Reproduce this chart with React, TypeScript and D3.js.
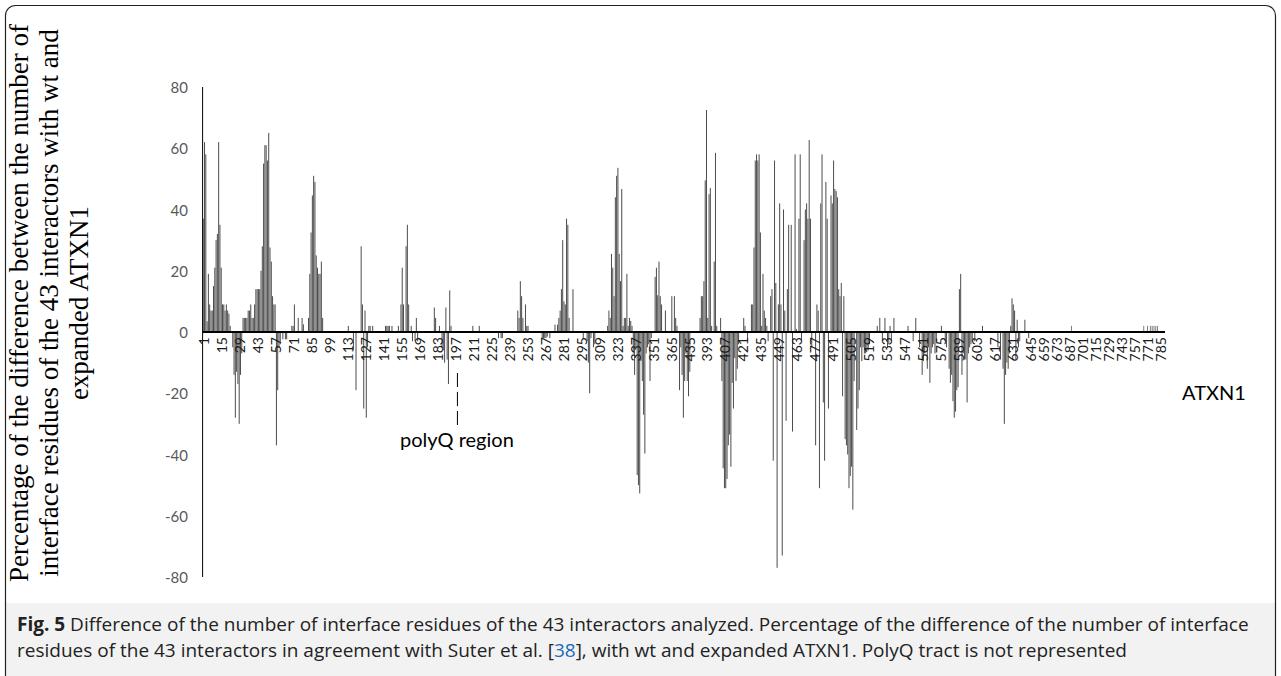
import * as d3 from "d3";

// residue positions along ATXN1 (polyQ tract removed) and the % difference read at each
const residues = [
  1, 2, 3, 4, 5, 6, 7, 8, 9, 10, 11, 12, 13, 14, 15, 16, 17, 18, 19, 20, 21, 22,
  24, 25, 26, 27, 28, 29, 30, 31, 32, 33, 34, 35, 36, 37, 38, 39, 40, 41, 42, 43, 44, 45, 46, 47, 48,
  49, 50, 51, 52, 53, 54, 55, 56, 57, 58, 59, 60, 61, 63, 65, 66, 70, 71, 72, 75, 78, 79,
  83, 84, 85, 86, 87, 88, 89, 90, 91, 92, 93, 94,
  114, 118, 120, 124, 125, 126, 127, 128, 129, 130, 131, 133, 143, 144, 145, 146, 148,
  153, 155, 156, 157, 159, 160, 161, 163, 164, 166, 167, 168,
  181, 182, 185, 187, 188, 189, 190, 191, 192, 193, 194,
  211, 216, 231, 233, 234, 246, 247, 248, 249, 250, 252, 253, 254,
  265, 266, 267, 268, 269, 271, 275, 277, 278, 279, 280, 281, 282, 283, 284, 285, 286, 289,
  297, 300, 301, 302, 303, 305, 306,
  316, 317, 318, 319, 320, 321, 322, 323, 324, 325, 326, 327, 328, 329, 330, 331, 332, 333, 334, 335,
  336, 337, 338, 339, 340, 341, 342, 343, 344, 345, 346, 347, 348, 349, 350,
  353, 354, 355, 356, 357, 358, 361, 366, 368, 369, 370,
  372, 373, 374, 375, 376, 377, 378, 379, 380,
  388, 389, 390, 391, 392, 393, 394, 395, 396, 397, 399, 400, 401, 404,
  405, 406, 407, 408, 409, 410, 411, 412, 413, 414, 415, 416, 417, 418,
  422, 423, 425, 428, 429, 430, 431, 432, 433, 434, 435, 436, 437, 438, 439, 440, 441,
  443, 444, 445, 446, 447, 448, 449, 450, 451, 452, 453, 454, 455, 456, 457,
  459, 460, 462, 463, 465, 466, 467, 469, 470, 471, 472, 473, 474, 475,
  478, 479, 480, 481, 482, 483, 484, 485, 486, 487, 488, 490, 491, 492, 493, 494, 495,
  496, 497, 498, 499, 500, 501, 502, 503, 504, 505, 506, 507, 508,
  510, 511, 512, 513, 514, 515, 516, 517, 518, 519, 520,
  526, 528, 530, 532, 534, 535, 536, 537, 539, 550, 554, 556, 559,
  561, 562, 563, 564, 565, 566, 567, 568, 569, 570, 571, 572, 576,
  579, 580, 582, 583, 584, 585, 586, 587, 588, 589, 590, 591, 592, 593, 594, 595, 596, 597, 598, 599, 600, 602, 608,
  620, 622, 624, 625, 626, 627, 628, 629, 630, 631, 632, 633, 634, 635, 636, 637, 641, 644,
  690, 768, 772, 775, 777, 779, 781, 783,
];
const diffs = [
  37, 62, 58, 3.5, 19, 9, 7, 7, 15, 21, 30, 32, 62, 35, 21, 9, 9, 7, 9, 7, 6, 2,
  -5, -14, -28, -13, -17, -30, -14, -7, 4.6, 4.6, 4.6, 4.6, 7, 7, 9, 4.6, 4.6, 9, 14, 14, 14, 14, 20, 28, 55,
  61, 61, 56, 65, 27.6, 23, 11.7, 9, 9, -37, -19, -5, -4, -2.4, -2.4, -2.4, 2, 2, 9, 4.6, 4.6, 2.5,
  4.6, 19, 32.5, 44.6, 51, 49, 25, 21, 19, 19, 23, 4.6,
  2, -6, -19, 28, 9, -25, 7, -28, -5, 2, 2, 2, 2, 2, 2, 2, 2,
  2, 9, 21, 9, 28, 35, 9, 2, -3, -3, 4.6, -3,
  8, 4.6, 2, -5, -6, -10, 8, -9, -17, 13.6, 2,
  2, 2, -2, -2, -2, 7, 4.6, 16.6, 11.7, 4.6, 9, 2, 2,
  -2, -2, -2, -2, -1.5, -2, 2.4, 2.4, 4.6, 7, 14, 30, 10, 9, 37, 35, 4.6, 14,
  -2, -3, -10, -20, -2, -5, -4,
  2, 7, 4.6, 25.5, 21, 11.7, 44, 51, 53.6, 25.5, 16.6, 46.7, 2, 4.6, 4.6, 19, 2, 4.6, 3.6, 2,
  -7, -14, -5, -46.7, -50, -52.7, -9.5, -16, -27, -39.7, -7, -5, -4, -16, -2,
  18, 21, 12, 23, 11.7, 9, 7, 11.7, 11.7, 4.6, 2,
  -19, -5, -14, -28, -16, -7, -16, -21, -13,
  4.6, 11.7, 11.7, 16.6, 49.5, 72.5, 4.6, 45, 47, 2, 23, 58.5, 2, 4.6,
  -16, -44.5, -51, -51, -48, -37, -33.5, -44, -16.6, -25, -8.5, -16, -12, -4,
  4.6, 2, -3, 9, 9, 27.6, 56, 58, 56, 58, 32.5, 2, 19, 7, 4.6, 2, -3,
  11.7, 14, -42, 56, 16, -77, 9, 42, 9, -73, 40, 7, -29, 14, 35,
  35, -32.5, 58, 1, 37, 58, -3, 30, 40, 42, 37, 62.7, 37, -5,
  -37, 9, 7, -51, 42, 58, -23, -42, 49, 37, -25, 44.6, 42, 56, 46.7, 46, 44,
  14, 11.7, 16, -21, 11.7, -35, -37, -40, -51, -47, -44, -58, -16,
  -32, -25, -19, -5, -9.5, -5, -7, -7, -6, -6, -4,
  2, 4.6, -3, 4.6, -5, -4, 2, -3, 4.6, 2, -3, 4.6, -5,
  -14, -9.5, -7, -5, -12, -5, -16.6, -7, -5, -4, -7, -3, 2,
  -3, -5, -12, -16.6, -14, -22.6, -28, -26, -19, -18, 14, 19, -14, -7, -9, -9, -23, -7, -5, -4, -3, -3, 2,
  -5, -9, -12, -30, -14, -10, -12, -7, 2, 11, 9, 7, -9, 4, -5, -3, 4, -2,
  2, 2, 2, 2, 2, 2, 2, 2,
];

const tickLabels = [
  "1", "15", "29", "43", "57", "71", "85", "99", "113", "127", "141", "155", "169", "183", "197",
  "211", "225", "239", "253", "267", "281", "295", "309", "323", "337", "351", "365", "435", "393",
  "407", "421", "435", "449", "463", "477", "491", "505", "519", "533", "547", "561", "575", "589",
  "603", "617", "631", "645", "659", "673", "687", "701", "715", "729", "743", "757", "771", "785",
];
const yTicks = [80, 60, 40, 20, 0, -20, -40, -60, -80];

const yTitle = [
  "Percentage of the difference between the number of",
  "interface residues of the 43 interactors with wt and",
  "expanded ATXN1",
];

const W = 1281;
const H = 676;
const CHART_FONT = "Lato, 'Open Sans', sans-serif";
const CAPTION_FONT = "'Open Sans', 'Liberation Sans', sans-serif";

export default function App() {
  // category axis: the picture is squeezed after residue ~645, so a piecewise scale
  const x = d3.scaleLinear().domain([0.5, 645, 785.5]).range([202.6, 1030, 1160]);
  const y = d3.scaleLinear().domain([-80, 80]).range([577, 87]);
  const y0 = y(0);
  const barW = (r: number) => (x(r + 0.5) - x(r - 0.5)) * 0.78;

  const bars = residues.map((r, i) => {
    const v = diffs[i];
    const w = barW(r);
    return (
      <rect
        key={r}
        x={x(r) - w / 2}
        width={w}
        y={Math.min(y(v), y0)}
        height={Math.abs(y(v) - y0)}
        fill="#4d4d4d"
      />
    );
  });

  const xLabels = tickLabels.map((t, i) => (
    <text
      key={i}
      transform={`translate(${x(1 + i * 14) + 0.5},${y0 + 5}) rotate(-90)`}
      textAnchor="end"
      dominantBaseline="central"
      fontSize={14}
      fill="#1a1a1a"
      fontFamily={CHART_FONT}
    >
      {t}
    </text>
  ));

  const yLabels = yTicks.map((t) => (
    <text
      key={t}
      x={188}
      y={y(t)}
      textAnchor="end"
      dominantBaseline="central"
      fontSize={15}
      fill="#595959"
      fontFamily={CHART_FONT}
    >
      {t}
    </text>
  ));

  const [left, right] = [x.range()[0], 1165];
  const polyX = x(199);

  return (
    <svg width={W} height={H} style={{ position: "absolute", left: 0, top: 0 }}>
      <rect x={0} y={0} width={W} height={H} fill="#fff" />
      <rect x={5.5} y={603} width={1270} height={80} fill="#f2f2f2" />
      <rect x={5.5} y={5.5} width={1270} height={720} rx={10} fill="none" stroke="#222" strokeWidth={1.2} />

      {yTitle.map((line, i) => (
        <text
          key={i}
          transform={`translate(${28 + i * 30},303) rotate(-90)`}
          textAnchor="middle"
          fontSize={27}
          fontFamily="'Liberation Serif', 'Times New Roman', serif"
          fill="#000"
        >
          {line}
        </text>
      ))}

      {yLabels}
      {bars}
      <line x1={left} x2={left} y1={y(80)} y2={y(-80)} stroke="#000" strokeWidth={1} />
      <line x1={left} x2={right} y1={y0} y2={y0} stroke="#000" strokeWidth={2} />
      {xLabels}

      <line x1={polyX} x2={polyX} y1={373} y2={428} stroke="#000" strokeWidth={1} strokeDasharray="14,5" />
      <text x={400} y={447} fontSize={20} fontFamily={CHART_FONT} fill="#000">polyQ region</text>
      <text x={1182} y={400} fontSize={20} fontFamily={CHART_FONT} fill="#000">ATXN1</text>

      <text x={17} y={631} fontSize={19} fontFamily={CAPTION_FONT} fill="#222">
        <tspan fontWeight="bold">Fig. 5</tspan>
        {" Difference of the number of interface residues of the 43 interactors analyzed. Percentage of the difference of the number of interface"}
      </text>
      <text x={17} y={657} fontSize={19} fontFamily={CAPTION_FONT} fill="#222">
        {"residues of the 43 interactors in agreement with Suter et al. ["}
        <tspan fill="#1a6bb8">38</tspan>
        {"], with wt and expanded ATXN1. PolyQ tract is not represented"}
      </text>
    </svg>
  );
}
